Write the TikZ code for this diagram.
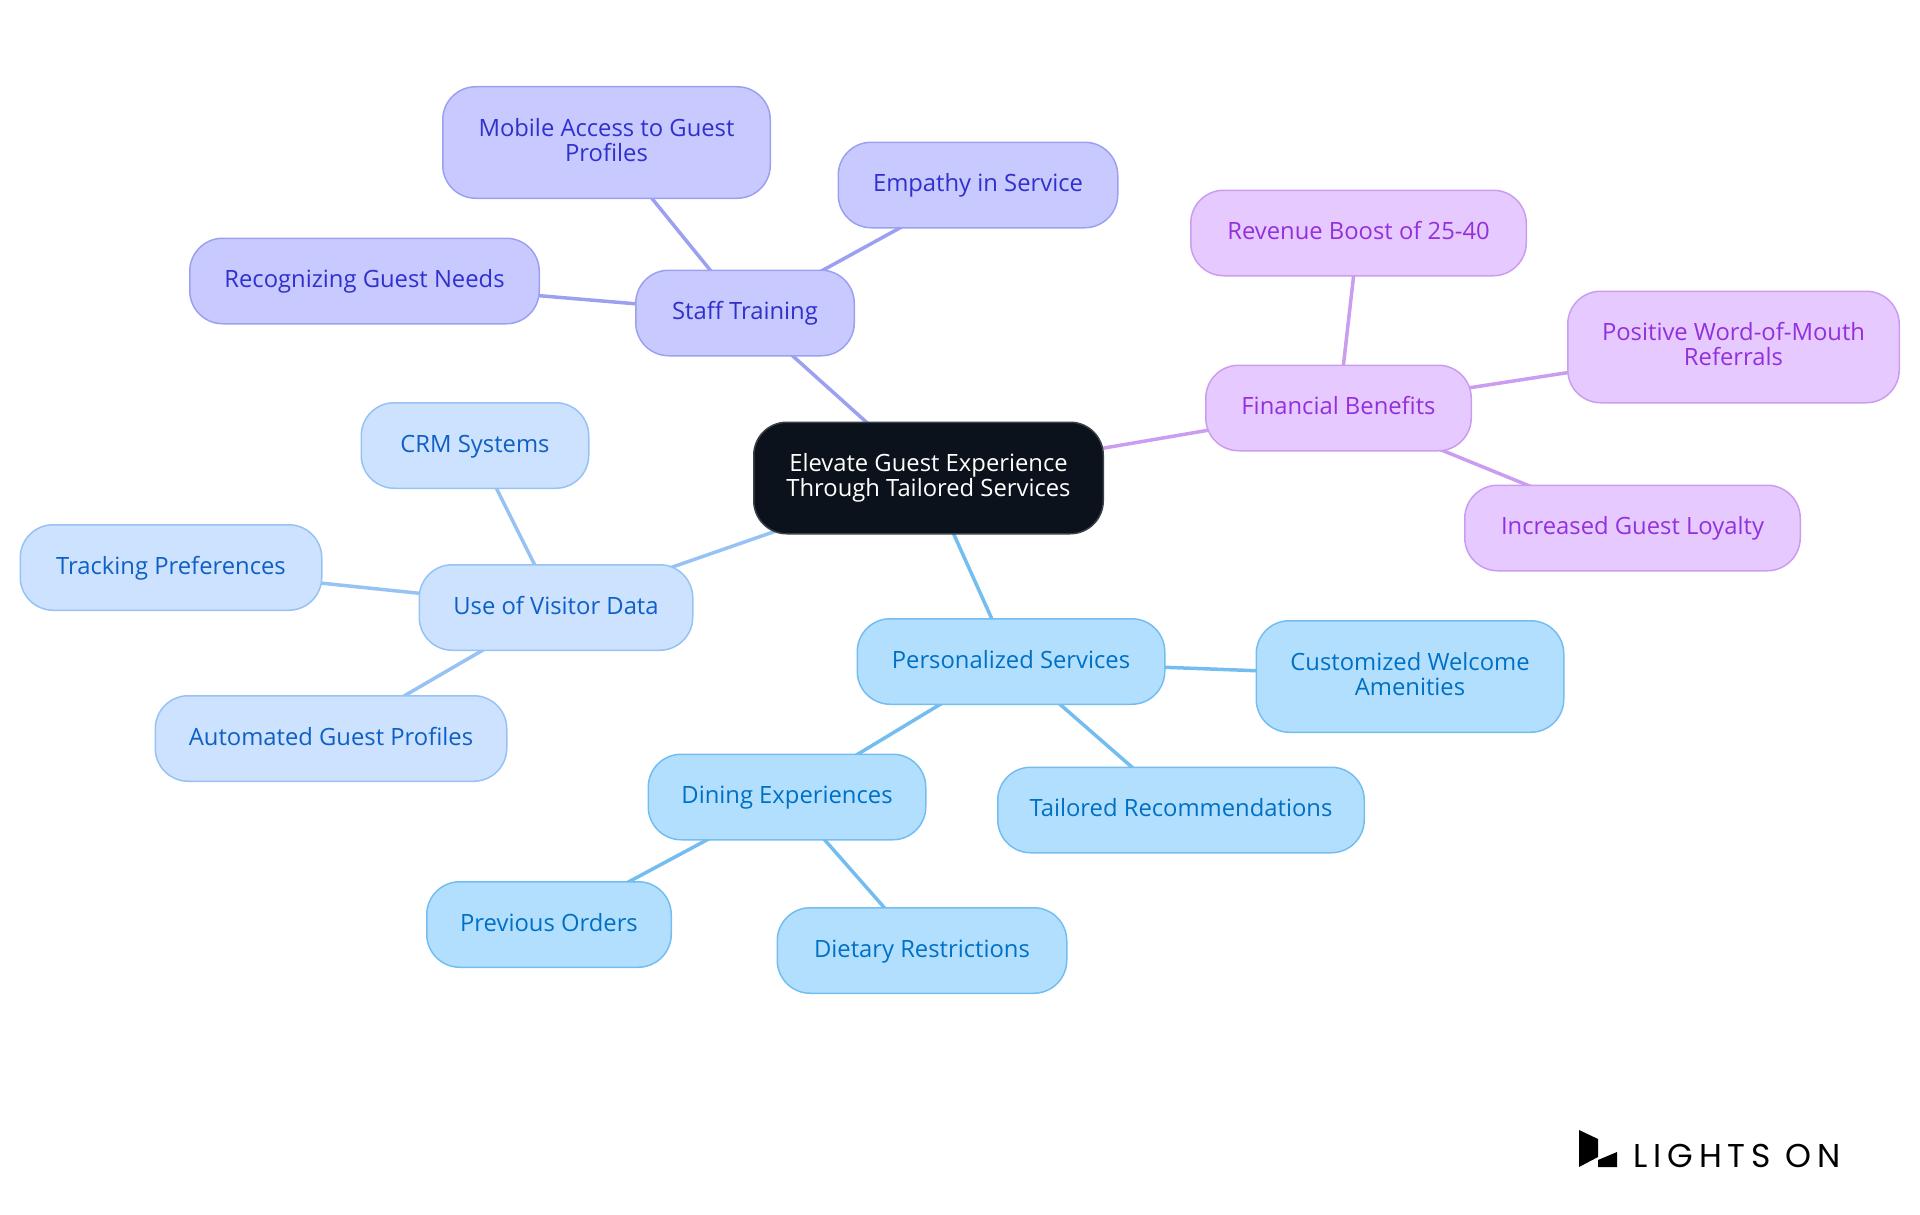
\documentclass[tikz,border=0pt]{standalone}
\usepackage{fontspec}
\setmainfont{Open Sans}
\newfontfamily\logofont[LetterSpace=18]{Poppins}
\usetikzlibrary{positioning,backgrounds}
\definecolor{rootfill}{HTML}{0B121B}
\definecolor{rootline}{HTML}{3A4048}
\definecolor{svcfill}{HTML}{B3DFFF}
\definecolor{svcline}{HTML}{74BDF0}
\definecolor{svctext}{HTML}{0070C4}
\definecolor{datafill}{HTML}{CCE2FF}
\definecolor{dataline}{HTML}{96C3F4}
\definecolor{datatext}{HTML}{0F60C4}
\definecolor{stafffill}{HTML}{C8CAFF}
\definecolor{staffline}{HTML}{9BA0F0}
\definecolor{stafftext}{HTML}{3030CC}
\definecolor{finfill}{HTML}{E6CAFF}
\definecolor{finline}{HTML}{CA9DF0}
\definecolor{fintext}{HTML}{9330DD}
\newcommand{\labelstrut}{\rule[-5.9pt]{0pt}{25.4pt}}
\tikzset{
    topic/.style={rectangle,draw,line width=1.5pt,rounded corners=33pt,inner sep=0pt,outer sep=0pt,
        minimum height=85.5pt,align=center,font=\fontsize{23.8}{25}\selectfont,
        execute at begin node=\labelstrut,execute at end node=\labelstrut},
    tall/.style={minimum height=111.5pt},
    centre/.style={topic,tall,fill=rootfill,draw=rootline,text=white},
    service/.style={topic,fill=svcfill,draw=svcline,text=svctext},
    visitor/.style={topic,fill=datafill,draw=dataline,text=datatext},
    staff/.style={topic,fill=stafffill,draw=staffline,text=stafftext},
    finance/.style={topic,fill=finfill,draw=finline,text=fintext},
    servicelink/.style={svcline,line width=3.5pt},
    visitorlink/.style={dataline,line width=3.5pt},
    stafflink/.style={staffline,line width=3.5pt},
    financelink/.style={finline,line width=3.5pt}
}

\begin{document}
\begin{tikzpicture}[x=1pt,y=-1pt]

    \useasboundingbox (0,0) rectangle (1920,1215);

    \node[centre,minimum width=349.5pt] (root) at (928.5,478) {Elevate Guest Experience\\Through Tailored Services};

    \node[staff,minimum width=218.5pt] (training) [above=66.5pt of root, xshift=-183.5pt] {Staff Training};
    \node[staff,tall,minimum width=327.5pt] (mobile) [above=72pt of training, xshift=-138.5pt] {Mobile Access to Guest\\Profiles};
    \node[staff,minimum width=279.5pt] (empathy) [above=42.5pt of training, xshift=233pt] {Empathy in Service};
    \node[staff,minimum width=349.5pt] (needs) [left=96.5pt of training, yshift=32pt] {Recognizing Guest Needs};

    \node[finance,minimum width=265.5pt] (benefits) [right=102.5pt of root, yshift=70pt] {Financial Benefits};
    \node[finance,minimum width=335.5pt] (revenue) [above=89.5pt of benefits, xshift=20pt] {Revenue Boost of 25-40};
    \node[finance,tall,minimum width=331.5pt] (referrals) [right=96.5pt of benefits, yshift=61pt] {Positive Word-of-Mouth\\Referrals};
    \node[finance,minimum width=335.5pt] (loyalty) [below=34.5pt of benefits, xshift=294pt] {Increased Guest Loyalty};

    \node[service,minimum width=307.5pt] (personal) [below=85pt of root, xshift=82.5pt] {Personalized Services};
    \node[service,tall,minimum width=307.5pt] (welcome) [right=91.5pt of personal, yshift=-15pt] {Customized Welcome\\Amenities};
    \node[service,minimum width=366.5pt] (tailored) [below=63pt of personal, xshift=170pt] {Tailored Recommendations};
    \node[service,minimum width=277.5pt] (dining) [below=50pt of personal, xshift=-224pt] {Dining Experiences};
    \node[service,minimum width=244.5pt] (orders) [below=42pt of dining, xshift=-238pt] {Previous Orders};
    \node[service,minimum width=289.5pt] (dietary) [below=68pt of dining, xshift=135pt] {Dietary Restrictions};

    \node[visitor,minimum width=273.5pt] (data) [below=31pt of root, xshift=-372.5pt] {Use of Visitor Data};
    \node[visitor,minimum width=227.5pt] (crm) [above=76.5pt of data, xshift=-81pt] {CRM Systems};
    \node[visitor,minimum width=301.5pt] (tracking) [left=97.5pt of data, yshift=40pt] {Tracking Preferences};
    \node[visitor,minimum width=351.5pt] (profiles) [below=45.5pt of data, xshift=-225pt] {Automated Guest Profiles};

    \begin{scope}[on background layer]
        \draw[stafflink] (root.center) -- (training.center);
        \draw[stafflink] (training.center) -- (mobile.center);
        \draw[stafflink] (training.center) -- (empathy.center);
        \draw[stafflink] (training.center) -- (needs.center);
        \draw[financelink] (root.center) -- (benefits.center);
        \draw[financelink] (benefits.center) -- (revenue.center);
        \draw[financelink] (benefits.center) -- (referrals.center);
        \draw[financelink] (benefits.center) -- (loyalty.center);
        \draw[servicelink] (root.center) -- (personal.center);
        \draw[servicelink] (personal.center) -- (welcome.center);
        \draw[servicelink] (personal.center) -- (tailored.center);
        \draw[servicelink] (personal.center) -- (dining.center);
        \draw[servicelink] (dining.center) -- (orders.center);
        \draw[servicelink] (dining.center) -- (dietary.center);
        \draw[visitorlink] (root.center) -- (data.center);
        \draw[visitorlink] (data.center) -- (crm.center);
        \draw[visitorlink] (data.center) -- (tracking.center);
        \draw[visitorlink] (data.center) -- (profiles.center);
    \end{scope}

    \fill (1579,1130) -- (1598,1139) -- (1598,1157) -- (1579,1167) -- cycle;
    \fill (1598,1160) -- (1617,1152) -- (1617,1167) -- (1598,1167) -- cycle;
    \node[inner sep=0pt,anchor=base west,font=\logofont\fontsize{33}{33}\selectfont] (logo) at (1633,1167) {LIGHTS ON};

\end{tikzpicture}
\end{document}
